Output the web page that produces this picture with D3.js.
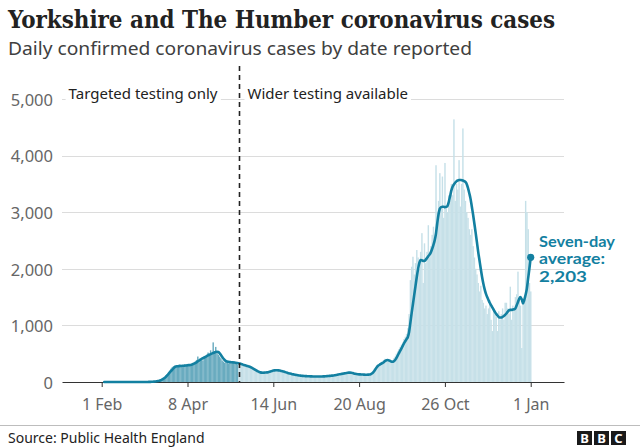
<!DOCTYPE html>
<html><head><meta charset="utf-8">
<script src="https://cdn.jsdelivr.net/npm/d3@7"></script>
<style>
body{margin:0;background:#fff;}
svg{display:block;}
</style>
</head><body>
<svg id="chart" width="640" height="447"></svg>
<script>
// ---------- DATA ----------
const titleText = "Yorkshire and The Humber coronavirus cases";
const subtitleText = "Daily confirmed coronavirus cases by date reported";
const sourceText = "Source: Public Health England";

const yTicks = [0, 1000, 2000, 3000, 4000, 5000];
const xTickDates = ["2020-02-01", "2020-04-08", "2020-06-14", "2020-08-20", "2020-10-26", "2021-01-01"];
const xTickLabels = ["1 Feb", "8 Apr", "14 Jun", "20 Aug", "26 Oct", "1 Jan"];

const widerTestingDate = "2020-05-18";
const phaseLabels = ["Targeted testing only", "Wider testing available"];
const annotationLines = ["Seven-day", "average:", "2,203"];

// daily confirmed cases, one value per day from 1 Mar 2020 to 1 Jan 2021
const casesStart = "2020-03-01";
const dailyCases = [
  0,0,0,1,0,2,1,
  2,3,4,5,8,10,12,
  15,20,28,40,55,70,88,
  110,140,165,200,235,260,280,
  290,270,300,285,310,265,290,
  270,305,295,320,280,300,310,
  330,300,360,390,450,350,400,
  420,380,460,440,480,520,470,
  560,480,700,540,620,510,480,
  450,420,380,360,340,390,350,
  330,360,350,340,370,320,340,
  310,350,320,300,310,290,280,
  270,290,260,250,240,220,210,
  200,190,180,170,160,165,150,
  170,175,165,185,190,200,210,
  215,200,220,205,195,200,185,
  180,175,165,160,150,145,140,
  135,130,125,120,115,110,112,
  105,110,100,108,100,98,102,
  95,100,98,92,96,100,94,
  92,98,100,96,104,100,108,
  110,105,112,118,115,122,125,
  128,132,140,136,148,150,155,
  160,170,165,175,158,150,145,
  140,135,138,130,134,132,128,
  130,126,132,128,135,140,150,
  170,200,240,270,300,310,330,
  340,360,390,410,400,380,370,
  350,360,380,420,450,500,540,
  580,620,660,700,760,800,850,
  950,1200,1800,2037,2213,1900,2100,
  2332,2200,2000,2300,2630,1750,2450,
  2100,2300,2770,2200,2400,2600,2744,
  2500,3830,3000,3200,3690,3100,3630,
  2900,3870,3100,3000,3300,3200,3500,
  3300,4640,3200,3500,3400,3920,3100,
  3500,4480,3400,3200,3000,2900,2700,
  2600,2700,2400,2200,2000,1900,1750,
  1600,1700,1450,1400,1300,1350,1200,
  1300,1450,1100,900,1300,1250,1150,
  900,1250,1100,1200,1300,1100,1400,
  1400,1300,1200,1684,1100,1350,1300,
  1500,1550,1950,1450,1350,600,1400,
  1450,3200,3000,2700,1750,1600
];

// seven-day average, one value per day from 3 Feb 2020 to 1 Jan 2021
const avgStart = "2020-02-03";
const sevenDayAvg = [
  0,0,0,0,0,0,0,
  0,0,0,0,0,0,0,
  0,0,0,0,0,0,0,
  0,0,0,0,0,0,0,
  0,0,0,1,1,1,1,
  2,3,4,5,7,9,12,
  16,22,30,42,56,72,90,
  112,138,165,190,215,240,262,
  275,278,280,282,284,286,288,
  290,292,295,298,300,305,312,
  322,334,348,362,378,394,408,
  420,432,445,458,470,482,492,
  502,512,522,530,535,530,512,
  480,448,415,388,370,362,356,
  352,350,348,346,342,338,335,
  330,325,318,310,302,295,288,
  281,274,266,255,242,228,214,
  200,188,178,170,166,164,166,
  168,170,174,180,188,196,202,
  206,208,208,206,202,196,190,
  184,177,170,163,156,150,144,
  138,133,128,124,120,116,113,
  110,108,106,104,103,102,101,
  100,99,98,97,96,96,96,
  96,97,98,99,100,102,104,
  106,108,110,113,116,119,122,
  130,134,138,142,146,150,154,
  158,162,165,166,164,158,150,
  144,140,137,135,134,133,132,
  130,129,129,130,132,138,150,
  170,200,235,265,290,305,320,
  332,345,365,380,388,385,375,
  362,358,365,385,420,460,505,
  550,590,635,680,720,755,790,
  880,1040,1213,1370,1530,1690,1850,
  1990,2100,2155,2150,2140,2140,2160,
  2190,2220,2250,2290,2350,2420,2500,
  2620,2800,2960,3060,3090,3095,3095,
  3090,3095,3110,3180,3280,3380,3450,
  3490,3520,3545,3560,3570,3570,3565,
  3560,3550,3535,3500,3430,3340,3240,
  3100,2960,2800,2640,2470,2300,2150,
  2000,1860,1740,1640,1560,1500,1450,
  1400,1360,1320,1280,1240,1205,1175,
  1150,1140,1140,1150,1165,1185,1210,
  1240,1265,1275,1275,1280,1285,1300,
  1350,1410,1470,1500,1460,1390,1450,
  1540,1650,1830,2010,2203
];

// ---------- CHART ----------
const parse = d3.utcParse("%Y-%m-%d");
const DAY = 864e5;
const cases = dailyCases.map((v, i) => ({date: new Date(+parse(casesStart) + i * DAY), value: v}));
const avg = sevenDayAvg.map((v, i) => ({date: new Date(+parse(avgStart) + i * DAY), value: v}));
const splitDate = parse(widerTestingDate);

const svg = d3.select("#chart");
const sans = "'Noto Sans', 'Open Sans', sans-serif";
const serif = "'DejaVu Serif', serif";

const x = d3.scaleUtc().domain([parse("2020-01-01"), parse("2021-01-27")]).range([62, 564]);
const y = d3.scaleLinear().domain([0, 5000]).range([382, 99]);
const dayW = x(new Date(+parse("2020-06-01") + DAY)) - x(parse("2020-06-01"));

// title & subtitle
svg.append("text").attr("x", 8).attr("y", 28)
  .attr("font-family", serif).attr("font-weight", "bold").attr("font-stretch", "condensed").attr("font-size", 24)
  .attr("fill", "#222").attr("textLength", 547).attr("lengthAdjust", "spacingAndGlyphs")
  .text(titleText);
svg.append("text").attr("x", 8).attr("y", 55)
  .attr("font-family", sans).attr("font-size", 17.5)
  .attr("fill", "#404040").attr("textLength", 464).attr("lengthAdjust", "spacingAndGlyphs")
  .text(subtitleText);

// gridlines
svg.append("g").selectAll("line").data(yTicks.filter(d => d > 0)).join("line")
  .attr("x1", 62).attr("x2", 564)
  .attr("y1", d => Math.round(y(d)) + 0.5).attr("y2", d => Math.round(y(d)) + 0.5)
  .attr("stroke", "#dcdcdc").attr("stroke-width", 1);

// y axis labels
const yAxis = d3.axisLeft(y).tickValues(yTicks).tickSize(0).tickPadding(0).tickFormat(d3.format(","));
const gy = svg.append("g").attr("transform", "translate(53,1)").call(yAxis);
gy.select(".domain").remove();
gy.selectAll("text").attr("font-family", sans).attr("font-size", 16.5).attr("fill", "#666");

// bars
svg.append("g").selectAll("rect").data(cases).join("rect")
  .attr("x", d => x(d.date) - dayW / 2)
  .attr("width", dayW + 0.15)
  .attr("y", d => y(d.value))
  .attr("height", d => y(0) - y(d.value))
  .attr("fill", d => d.date < splitDate ? "#69abbf" : "#c6e0e8");

// x axis
const xAxis = d3.axisBottom(x)
  .tickValues(xTickDates.map(parse))
  .tickFormat((d, i) => xTickLabels[i])
  .tickSize(5).tickSizeOuter(0).tickPadding(12);
const gx = svg.append("g").attr("transform", "translate(0,382)").call(xAxis);
gx.select(".domain").attr("stroke", "#333").attr("stroke-width", 1.2);
gx.selectAll(".tick line").attr("stroke", "#333");
gx.selectAll("text").attr("font-family", sans).attr("font-size", 16).attr("fill", "#666");

// seven-day average line
svg.append("path").datum(avg)
  .attr("d", d3.line().x(d => x(d.date)).y(d => y(d.value)).curve(d3.curveMonotoneX))
  .attr("fill", "none").attr("stroke", "#1380a1").attr("stroke-width", 2.6)
  .attr("stroke-linejoin", "round").attr("stroke-linecap", "round");
const last = avg[avg.length - 1];
svg.append("circle").attr("cx", x(last.date)).attr("cy", y(last.value)).attr("r", 3.6).attr("fill", "#1380a1");

// phase labels with white backing over the top gridline
const sx = Math.round(x(splitDate)) + 0.5;
const pl = [
  {text: phaseLabels[0], x: sx - 22, anchor: "end"},
  {text: phaseLabels[1], x: sx + 8, anchor: "start"}
];
const labelG = svg.append("g");
pl.forEach(p => {
  const t = labelG.append("text").attr("x", p.x).attr("y", 99).attr("text-anchor", p.anchor)
    .attr("font-family", sans).attr("font-size", 15).attr("fill", "#222").text(p.text);
  const bb = t.node().getBBox();
  labelG.insert("rect", () => t.node())
    .attr("x", bb.x - 3).attr("y", bb.y).attr("width", bb.width + 6).attr("height", bb.height).attr("fill", "#fff");
});

// dashed divider
svg.append("line").attr("x1", sx).attr("x2", sx).attr("y1", 66).attr("y2", 382)
  .attr("stroke", "#222").attr("stroke-width", 1.6).attr("stroke-dasharray", "5,4");

// annotation (one text per line so the lines never overlap)
svg.append("g").selectAll("text").data(annotationLines).join("text")
  .attr("x", 539).attr("y", (d, i) => 247 + i * 17.4)
  .attr("font-family", "Lato, 'Noto Sans', sans-serif").attr("font-weight", "bold")
  .attr("font-size", 14.5).attr("fill", "#1380a1")
  .attr("textLength", (d, i) => [76, 66, 48][i]).attr("lengthAdjust", "spacingAndGlyphs")
  .text(d => d);

// footer
svg.append("line").attr("x1", 0).attr("x2", 640).attr("y1", 425.5).attr("y2", 425.5)
  .attr("stroke", "#bdbdbd").attr("stroke-width", 1);
svg.append("text").attr("x", 8).attr("y", 443)
  .attr("font-family", sans).attr("font-size", 14).attr("fill", "#222").text(sourceText);
const logo = svg.append("g");
["B", "B", "C"].forEach((c, i) => {
  logo.append("rect").attr("x", 577 + i * 17).attr("y", 431).attr("width", 15).attr("height", 14).attr("fill", "#1a1a1a");
  logo.append("text").attr("x", 577 + i * 17 + 7.5).attr("y", 443).attr("text-anchor", "middle")
    .attr("font-family", sans).attr("font-weight", "bold").attr("font-size", 13).attr("fill", "#fff").text(c);
});
</script>
</body></html>
